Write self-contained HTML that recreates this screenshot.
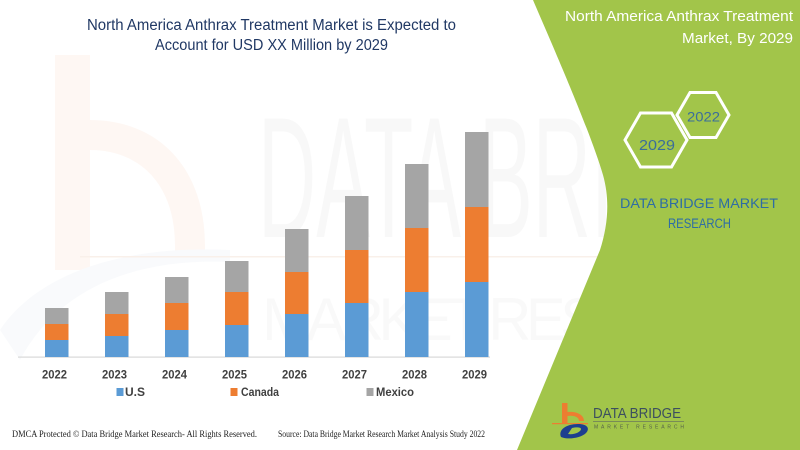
<!DOCTYPE html>
<html><head><meta charset="utf-8"><style>
html,body{margin:0;padding:0;background:#fff;}
svg{display:block;}
</style></head><body>
<svg width="800" height="450" viewBox="0 0 800 450" xmlns="http://www.w3.org/2000/svg">
<rect width="800" height="450" fill="#ffffff"/>
<!-- faint watermark b -->
<g opacity="0.45">
<rect x="55" y="55" width="35" height="215" fill="#fdeee6"/>
<path d="M90,120 C160,120 205,170 205,245 L205,260 L175,260 L175,245 C175,185 140,150 90,150 Z" fill="#fdeee6"/>
<path d="M0,330 C40,270 130,245 230,250 L230,262 C140,258 60,285 20,360 Z" fill="#f2f5f9"/>
</g>
<text x="258" y="237" font-family="Liberation Sans, sans-serif" font-size="172" fill="#000" opacity="0.022" textLength="530" lengthAdjust="spacingAndGlyphs">DATA BRIDGE</text>
<rect x="80" y="256" width="600" height="1.5" fill="#f9f0ea"/>
<text x="262" y="340" font-family="Liberation Sans, sans-serif" font-size="60" fill="#000" opacity="0.018" textLength="520" lengthAdjust="spacing">MARKET RESEARCH</text>

<!-- green panel -->
<path d="M533,0 C548,35 590,130 603,175 C610,200 608,225 600,250 L517,450 L800,450 L800,0 Z" fill="#a2c54a"/>

<!-- main title -->
<text x="87" y="30" font-family="Liberation Sans, sans-serif" font-size="15.5" fill="#203864" textLength="369" lengthAdjust="spacingAndGlyphs">North America Anthrax Treatment Market is Expected to</text>
<text x="155" y="50" font-family="Liberation Sans, sans-serif" font-size="15.5" fill="#203864" textLength="233" lengthAdjust="spacingAndGlyphs">Account for USD XX Million by 2029</text>

<!-- axis -->
<rect x="18" y="356.5" width="472" height="1.2" fill="#d9d9d9"/>

<!-- bars -->
<g>
<rect x="45" y="308" width="23.5" height="16" fill="#a5a5a5"/><rect x="45" y="324" width="23.5" height="16" fill="#ed7d31"/><rect x="45" y="340" width="23.5" height="17" fill="#5b9bd5"/>
<rect x="105" y="292" width="23.5" height="22" fill="#a5a5a5"/><rect x="105" y="314" width="23.5" height="22" fill="#ed7d31"/><rect x="105" y="336" width="23.5" height="21" fill="#5b9bd5"/>
<rect x="165" y="277" width="23.5" height="26" fill="#a5a5a5"/><rect x="165" y="303" width="23.5" height="27" fill="#ed7d31"/><rect x="165" y="330" width="23.5" height="27" fill="#5b9bd5"/>
<rect x="225" y="261" width="23.5" height="31" fill="#a5a5a5"/><rect x="225" y="292" width="23.5" height="33" fill="#ed7d31"/><rect x="225" y="325" width="23.5" height="32" fill="#5b9bd5"/>
<rect x="285" y="229" width="23.5" height="43" fill="#a5a5a5"/><rect x="285" y="272" width="23.5" height="42" fill="#ed7d31"/><rect x="285" y="314" width="23.5" height="43" fill="#5b9bd5"/>
<rect x="345" y="196" width="23.5" height="54" fill="#a5a5a5"/><rect x="345" y="250" width="23.5" height="53" fill="#ed7d31"/><rect x="345" y="303" width="23.5" height="54" fill="#5b9bd5"/>
<rect x="405" y="164" width="23.5" height="64" fill="#a5a5a5"/><rect x="405" y="228" width="23.5" height="64" fill="#ed7d31"/><rect x="405" y="292" width="23.5" height="65" fill="#5b9bd5"/>
<rect x="465" y="132" width="23.5" height="75" fill="#a5a5a5"/><rect x="465" y="207" width="23.5" height="75" fill="#ed7d31"/><rect x="465" y="282" width="23.5" height="75" fill="#5b9bd5"/>
</g>

<!-- year labels -->
<g font-family="Liberation Sans, sans-serif" font-size="12" font-weight="bold" fill="#404040">
<text x="42" y="378.5" textLength="25" lengthAdjust="spacingAndGlyphs">2022</text>
<text x="102" y="378.5" textLength="25" lengthAdjust="spacingAndGlyphs">2023</text>
<text x="162" y="378.5" textLength="25" lengthAdjust="spacingAndGlyphs">2024</text>
<text x="222" y="378.5" textLength="25" lengthAdjust="spacingAndGlyphs">2025</text>
<text x="282" y="378.5" textLength="25" lengthAdjust="spacingAndGlyphs">2026</text>
<text x="342" y="378.5" textLength="25" lengthAdjust="spacingAndGlyphs">2027</text>
<text x="402" y="378.5" textLength="25" lengthAdjust="spacingAndGlyphs">2028</text>
<text x="462" y="378.5" textLength="25" lengthAdjust="spacingAndGlyphs">2029</text>
</g>

<!-- legend -->
<rect x="116.5" y="388" width="7" height="8" fill="#5b9bd5"/>
<rect x="230.5" y="388" width="7" height="8" fill="#ed7d31"/>
<rect x="366.5" y="388" width="7" height="8" fill="#a5a5a5"/>
<g font-family="Liberation Sans, sans-serif" font-size="12" font-weight="bold" fill="#404040">
<text x="125" y="396" textLength="20" lengthAdjust="spacingAndGlyphs">U.S</text>
<text x="241" y="396" textLength="38" lengthAdjust="spacingAndGlyphs">Canada</text>
<text x="376" y="396" textLength="38" lengthAdjust="spacingAndGlyphs">Mexico</text>
</g>

<!-- footer -->
<g font-family="Liberation Serif, serif" font-size="9.5" fill="#222">
<text x="12" y="437" textLength="245" lengthAdjust="spacingAndGlyphs">DMCA Protected © Data Bridge Market Research- All Rights Reserved.</text>
<text x="278" y="437" textLength="207" lengthAdjust="spacingAndGlyphs">Source: Data Bridge Market Research Market Analysis Study 2022</text>
</g>

<!-- right title -->
<g font-family="Liberation Sans, sans-serif" font-size="14.5" fill="#ffffff">
<text x="565" y="21" textLength="228" lengthAdjust="spacingAndGlyphs">North America Anthrax Treatment</text>
<text x="682" y="43" textLength="111" lengthAdjust="spacingAndGlyphs">Market, By 2029</text>
</g>

<!-- hexagons -->
<polygon points="625,140 640.5,113 671.5,113 687,140 671.5,167 640.5,167" fill="none" stroke="#ffffff" stroke-width="3"/>
<polygon points="677,115 690,92.5 716,92.5 729,115 716,137.5 690,137.5" fill="none" stroke="#ffffff" stroke-width="3"/>
<g font-family="Liberation Sans, sans-serif" fill="#3b6e9a">
<text x="687" y="121.5" font-size="14" textLength="33" lengthAdjust="spacingAndGlyphs">2022</text>
<text x="639" y="150" font-size="14.5" textLength="36" lengthAdjust="spacingAndGlyphs">2029</text>
</g>

<!-- DBMR text -->
<g font-family="Liberation Sans, sans-serif" font-size="14" fill="#2e6da4">
<text x="620" y="208" textLength="158" lengthAdjust="spacingAndGlyphs">DATA BRIDGE MARKET</text>
<text x="668" y="228" textLength="63" lengthAdjust="spacingAndGlyphs">RESEARCH</text>
</g>

<!-- logo -->
<g>
<rect x="562" y="403" width="5.5" height="20" fill="#ed7d31"/>
<path d="M567,412 C577,411 584,415 584,421 L579,421 C579,417 574,415 567,416 Z" fill="#ed7d31"/>
<rect x="552" y="423" width="36" height="1.2" fill="#ed7d31"/>
<path d="M561,437 C558,430 566,424 578,424 C588,424 590,429 586,433 C581,438 568,440 561,437 Z M568,434 C574,435 581,432 581,429 C581,427 576,427 572,428 Z" fill="#1d3f8f" fill-rule="evenodd"/>
<text x="593" y="418" font-family="Liberation Sans, sans-serif" font-size="15" fill="#3c4f5f" textLength="88" lengthAdjust="spacingAndGlyphs">DATA BRIDGE</text>
<rect x="593" y="421" width="91" height="0.8" fill="#6f7f5a"/>
<text x="594" y="428.5" font-family="Liberation Sans, sans-serif" font-size="5" fill="#55624a" textLength="90" lengthAdjust="spacing">MARKET RESEARCH</text>
</g>
</svg>
</body></html>
